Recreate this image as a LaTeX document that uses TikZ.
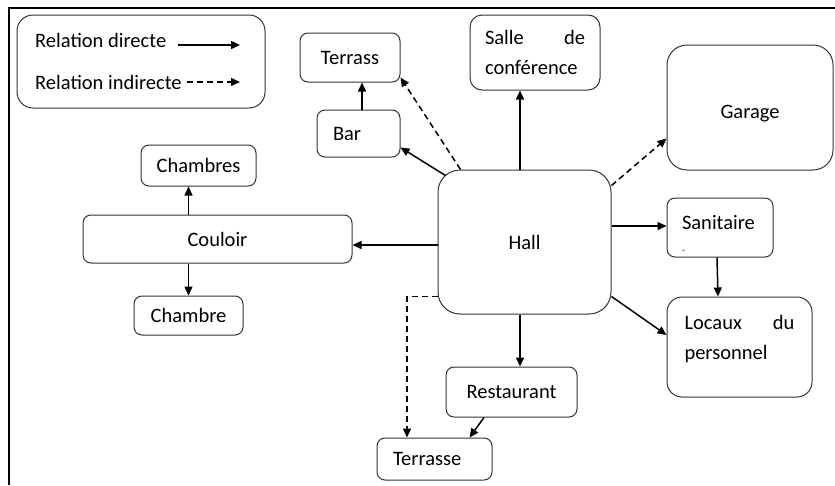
\documentclass[tikz,border=0pt]{standalone}
\usepackage{fontspec}
\setmainfont{Carlito}
\usepackage{tikz}
\usetikzlibrary{arrows.meta, positioning, calc}

\begin{document}
\begin{tikzpicture}[x=1pt, y=-1pt,
        font=\fontsize{20.5}{30}\selectfont,
        room/.style={rectangle, draw=black!80, line width=1pt, rounded corners=8pt, inner sep=0pt},
        arr/.style={-{Triangle[length=9pt, width=8pt]}, line width=1.5pt},
        indir/.style={arr, dash pattern=on 6pt off 4pt}
    ]
        \useasboundingbox (0,0) rectangle (835,485);

        % Frame
        \draw[line width=2pt] (9,485) -- (9,8) -- (835,8);

        % Legend
        \node[room, rounded corners=16pt, minimum width=248pt, minimum height=93pt] (legend) at (141,61.5) {};
        \node[anchor=west, inner sep=2pt] (ldir) at (33,40) {Relation directe};
        \node[anchor=west, inner sep=2pt] (lind) at (33,82) {Relation indirecte};
        \coordinate (ldirend) at (240,45);
        \coordinate (lindend) at (240,82);

        % Rooms
        \node[room, minimum width=173pt, minimum height=144pt, rounded corners=22pt] (hall) at (524.5,242) {Hall};

        \node[room, minimum width=100pt, minimum height=49pt] (terrass) at (350,57.5) {Terrass};
        \node[room, minimum width=83pt, minimum height=47pt, text width=51pt, align=left] (bar) at (358.5,133.5) {Bar};

        \node[room, minimum width=130pt, minimum height=75pt, rounded corners=12pt,
              text width=100pt, align=left] (salle) at (535,52.5) {Salle\hfill de\\conférence};

        \node[room, minimum width=166pt, minimum height=125pt, rounded corners=20pt,
              text height=26pt, text depth=4pt] (garage) at (750,107.5) {Garage};

        \node[room, minimum width=106pt, minimum height=59pt, text width=76pt, align=left,
              text height=28pt] (sanitaire) at (720,227.5)
            {Sanitaire\\[-6pt]{\fontsize{10}{12}\selectfont -}};

        \node[room, minimum width=145pt, minimum height=100pt, rounded corners=15pt,
              text width=110pt, align=left] (locaux) at (739.5,347) {Locaux\hfill du\\personnel\\[-10pt]\mbox{}};

        \node[room, minimum width=115pt, minimum height=41pt] (chambres) at (198.5,165.5) {Chambres};
        \node[room, minimum width=269pt, minimum height=48pt] (couloir) at (217.5,239) {Couloir};
        \node[room, minimum width=109pt, minimum height=39pt] (chambre) at (188.5,315.5) {Chambre};

        \node[room, minimum width=131pt, minimum height=50pt] (restaurant) at (511.5,392) {Restaurant};
        \node[room, minimum width=115pt, minimum height=42pt, text width=83pt, align=left] (terrasse) at (434.5,459) {Terrasse};

        % Connectors
        \draw[arr, shorten <=10pt] (ldir.east |- ldirend) -- (ldirend);
        \draw[indir, shorten <=3pt] (lind.east |- lindend) -- (lindend);

        \draw[arr] ([xshift=3.5pt]bar.north) -- ([xshift=12pt]terrass.south);
        \draw[arr] ([xshift=8pt, yshift=-6pt]hall.north west) -- ([yshift=10pt]bar.south east);
        \draw[indir] ([xshift=23pt]hall.north west) -- ([yshift=5pt]terrass.south east);
        \draw[arr] ([xshift=-4.5pt]hall.north) -- ([xshift=-15pt]salle.south);
        \draw[indir] ([yshift=-16pt]hall.north east) -- ([yshift=32pt]garage.south west);

        \draw[arr] ([yshift=16pt]hall.east) -- ([yshift=1.5pt]sanitaire.west);
        \draw[arr] ([xshift=-3pt]sanitaire.south) -- ([xshift=-21.5pt]locaux.north);
        \draw[arr] ([yshift=18pt]hall.south east) -- ([yshift=12pt]locaux.west);

        \draw[arr] ([yshift=-3pt]hall.west) -- ([yshift=-6pt]couloir.east);
        \draw[arr] (couloir.north -| chambre.north) -- (chambres.south -| chambre.north);
        \draw[arr] (couloir.south -| chambre.north) -- (chambre.north);

        \draw[arr] ([xshift=-4.5pt]hall.south) -- ([xshift=8.5pt]restaurant.north);
        \draw[arr] ([xshift=-27.5pt]restaurant.south) -- ([xshift=35pt]terrasse.north);
        \draw[indir] ([yshift=18pt]hall.south west) -| ([xshift=-27.5pt]terrasse.north);

    \end{tikzpicture}
\end{document}
